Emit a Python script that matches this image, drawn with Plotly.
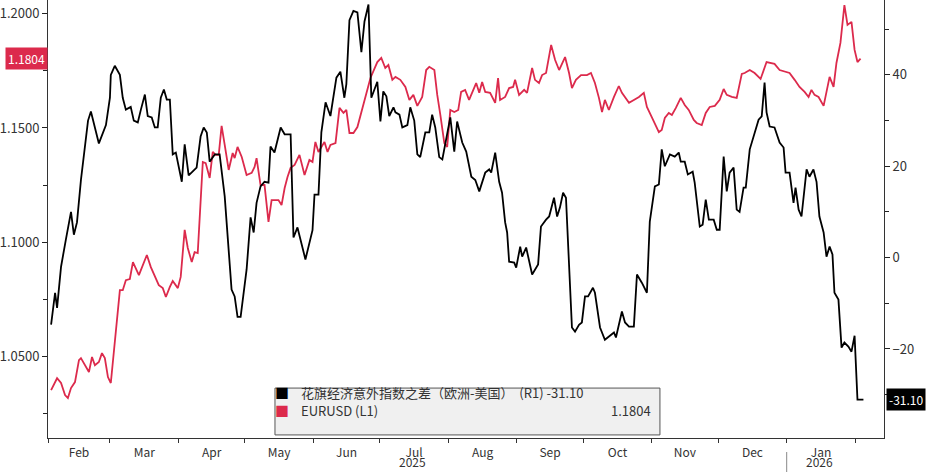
import pandas as pd
import plotly.graph_objects as go

START = pd.Timestamp("2025-02-01")

# days since 2025-02-01 and values
diff_days = [
    1.4, 3.2, 4.1, 5.9, 8.1, 10.4, 11.7, 13.1, 14.9, 18.1,
    19.4, 23, 26.2, 28, 28.4, 30.2, 32.5, 33.8, 35.2, 37.4,
    38.8, 40.6, 42, 43.8, 45.1, 46.9, 48.3, 49.6, 51, 52.4,
    53.7, 55.1, 56.4, 57.8, 60.5, 61.8, 63.6, 67.2, 69, 70.4,
    71.8, 73.1, 75.4, 77.6, 79.9, 81.2, 83, 84.4, 85.7, 87.1,
    89.8, 91.6, 93, 94.3, 96.1, 97.9, 99.7, 100.6, 102.4, 105.2,
    107, 109.7, 111, 112.8, 115.1, 116.4, 119.6, 120.5, 122.3, 123.6,
    125.5, 127.7, 130.4, 132.2, 134, 134.9, 136.3, 138.1, 139.9, 141.7,
    143.1, 144.9, 146.2, 148.9, 150.3, 151.6, 153, 154.3, 156.2, 157.1,
    158.9, 160.2, 162.5, 163.8, 165.6, 167, 168.3, 170.6, 172.4, 173.7,
    175.1, 176.9, 178.3, 180.1, 181.9, 183.7, 185, 187.3, 189.1, 191.4,
    193.2, 195, 197.7, 199.5, 200.4, 202.2, 204, 205.3, 206.7, 207.6,
    208.5, 210.8, 211.7, 213.5, 214.4, 216.2, 218.9, 221.6, 222.9, 225.2,
    226.6, 228.8, 230.2, 231.5, 232.9, 234.2, 236.9, 238.3, 240.1, 241.4,
    242.8, 244.2, 246.4, 247.3, 249.6, 251.8, 255.9, 256.8, 259.5, 260.9,
    262.7, 264.9, 266.3, 268.5, 270.8, 272.1, 274.4, 276.2, 277.5, 278.9,
    281.2, 283.4, 285.2, 286.1, 287.9, 289.3, 291.5, 292.4, 294.7, 296,
    297.4, 298.8, 301, 302.4, 303.7, 305.5, 306.9, 308.2, 310, 311.4,
    312.7, 314.5, 315.5, 317.3, 319.5, 321.3, 322.7, 324, 324.9, 326.3,
    328.5, 330.8, 332.6, 333.5, 335.3, 337.1, 338, 339.4, 340.7, 343,
    344.3, 346.1, 347.5, 348.8, 350.7, 352, 353.4, 354.7, 355.6, 357.4,
    358.8, 360.1, 361.9, 363.3, 364.7, 366, 368.7,
]
diff_vals = [
    -14.7, -7.7, -11, -2, 4, 10, 5, 7.7, 17, 30,
    32, 25, 29, 35, 40, 42, 40, 35, 32.4, 33,
    30, 29.6, 32.4, 35.7, 31, 30.7, 28.5, 28.5, 35, 36.8,
    34.6, 34.6, 22.6, 23, 16.6, 24.8, 18, 19.7, 26.5, 28.5,
    27.4, 21, 22.6, 22.6, 13.4, 5.5, -7, -8.5, -13, -13,
    -2.6, 8.8, 5.5, 12, 15.6, 16.6, 16.4, 24.3, 23, 28.5,
    27, 27, 4.4, 6.6, 1.8, -0.4, 6, 13.8, 13.8, 27.4,
    34, 31, 39.4, 40.7, 35, 38, 52, 54, 53.7, 45,
    51.7, 55.4, 35, 38.5, 29.8, 36.4, 35.3, 31, 32.9, 31.8,
    31.3, 28.5, 29, 32.9, 30, 22.6, 22, 27.4, 27.4, 31.3,
    28.5, 22, 21.5, 26.5, 30.7, 23.2, 29.8, 25.2, 23.2, 17.7,
    17, 14.5, 18.6, 19.3, 18.6, 23, 16.6, 14.2, 7.7, 5.5,
    -0.9, -1.1, -2.2, 2.4, 0.2, 2.2, -3.7, -1.5, 6.8, 8.3,
    9, 13.1, 9, 11, 14.2, 13.1, -15.3, -16.2, -14.7, -14.2,
    -8.5, -8.5, -6.6, -7.7, -15.3, -18, -16.4, -17.5, -11.8, -14.2,
    -15.1, -15.1, -3.7, -5.5, -7.7, 7.9, 15.6, 16, 23.7, 20,
    22.6, 22.1, 23, 21, 21, 18.2, 18.8, 16.4, 6.8, 7.2,
    12.7, 8.3, 8.3, 6.1, 6.1, 22.1, 14.5, 18.6, 19.7, 10.5,
    10, 15.3, 15.3, 23.7, 27.4, 30.2, 30.9, 38.3, 31.8, 28.7,
    28.5, 25.2, 24.1, 18.6, 18.6, 12, 15.3, 10.5, 9, 19.3,
    17.7, 19.3, 16.6, 9, 5.5, 0.2, 2.4, 0.7, -7.7, -9.2,
    -19.7, -18.6, -19.5, -20.6, -17.1, -31.1, -31.1,
]

fx_days = [
    1.4, 4.1, 5.9, 7.7, 9, 10.4, 12.2, 14, 14.9, 16.7,
    18.5, 19.9, 21.2, 23, 24.4, 25.7, 27.1, 28.4, 30.2, 32.5,
    33.8, 35.2, 37, 38.4, 41.1, 42.9, 44.7, 46.5, 48.3, 50.1,
    51.9, 53.3, 55.1, 56.4, 58.7, 60, 61.8, 63.2, 65, 66.3,
    67.7, 69, 70, 71.3, 73.1, 74.5, 75.8, 77.2, 78.5, 79.9,
    81.7, 83.5, 84.4, 85.7, 87.6, 89.8, 92.1, 93.4, 94.3, 96.1,
    97.9, 99.7, 101.1, 102.4, 104.2, 105.6, 107, 108.3, 109.7, 111.5,
    113.7, 116, 118.2, 119.6, 120.9, 122.3, 125, 126.4, 127.7, 130,
    131.8, 133.6, 134.9, 136.3, 138.1, 139.9, 143.1, 145.8, 148.9, 150.7,
    152.5, 153.9, 155.7, 157.1, 159.3, 161.6, 163.4, 165.2, 167, 169.2,
    171, 172.4, 174.7, 176, 177.4, 179.2, 180.5, 181.9, 183.7, 185.5,
    186.8, 188.6, 190.4, 192.3, 193.6, 195, 196.3, 197.7, 199.9, 202.2,
    203.5, 204.4, 206.7, 208.5, 210.3, 211.2, 213, 215.3, 216.6, 218.9,
    220.2, 222, 223.4, 225.2, 227.5, 229.3, 231.1, 233.8, 235.6, 236.9,
    238.7, 241, 243.7, 245.5, 247.3, 249.1, 250.5, 251.8, 253.6, 255.9,
    258.1, 259.5, 260.9, 262.7, 264.9, 267.2, 269.4, 270.8, 273, 274.8,
    276.2, 277.5, 278.9, 280.7, 282.1, 283.9, 286.1, 287.9, 289.7, 292,
    293.3, 295.6, 297.4, 299.2, 301.5, 303.7, 305.5, 306.9, 309.2, 311.4,
    313.7, 315, 317.3, 319.5, 322.2, 324.9, 326.3, 328.5, 330.8, 333.1,
    335.3, 337.6, 339.8, 342.1, 343.9, 345.2, 346.6, 348.4, 350.7, 352,
    353.4, 355.2, 356.5, 358.3, 360.1, 361.5, 363.3, 364.7, 366, 367.4,
]
fx_vals = [
    1.0351, 1.0403, 1.0382, 1.0329, 1.0316, 1.0360, 1.0386, 1.0482, 1.0491, 1.0460,
    1.0430, 1.0496, 1.0460, 1.0474, 1.0513, 1.0491, 1.0408, 1.0382, 1.0557, 1.0789,
    1.0789, 1.0833, 1.0838, 1.0912, 1.0855, 1.0899, 1.0943, 1.0890, 1.0847, 1.0811,
    1.0798, 1.0759, 1.0803, 1.0829, 1.0798, 1.0847, 1.1053, 1.0974, 1.0912, 1.0956,
    1.0952, 1.1154, 1.1351, 1.1346, 1.1281, 1.1395, 1.1382, 1.1382, 1.1509, 1.1426,
    1.1316, 1.1390, 1.1368, 1.1417, 1.1373, 1.1294, 1.1303, 1.1329, 1.1368, 1.1250,
    1.1250, 1.1088, 1.1184, 1.1184, 1.1184, 1.1162, 1.1237, 1.1285, 1.1325, 1.1338,
    1.1382, 1.1294, 1.1360, 1.1351, 1.1439, 1.1395, 1.1439, 1.1395, 1.1426, 1.1434,
    1.1588, 1.1566, 1.1579, 1.1478, 1.1478, 1.1504, 1.1623, 1.1719, 1.1789, 1.1807,
    1.1763, 1.1776, 1.1711, 1.1724, 1.1711, 1.1680, 1.1623, 1.1645, 1.1597, 1.1636,
    1.1754, 1.1768, 1.1754, 1.1645, 1.1557, 1.1434, 1.1417, 1.1579, 1.1570, 1.1579,
    1.1658, 1.1667, 1.1623, 1.1667, 1.1697, 1.1654, 1.1702, 1.1658, 1.1654, 1.1610,
    1.1719, 1.1623, 1.1636, 1.1675, 1.1680, 1.1711, 1.1645, 1.1667, 1.1654, 1.1763,
    1.1711, 1.1697, 1.1732, 1.1741, 1.1864, 1.1798, 1.1754, 1.1811, 1.1741, 1.1675,
    1.1711, 1.1732, 1.1732, 1.1741, 1.1697, 1.1632, 1.1570, 1.1623, 1.1579, 1.1636,
    1.1684, 1.1654, 1.1636, 1.1610, 1.1623, 1.1636, 1.1654, 1.1592, 1.1548, 1.1513,
    1.1482, 1.1491, 1.1544, 1.1566, 1.1557, 1.1588, 1.1632, 1.1601, 1.1579, 1.1535,
    1.1522, 1.1513, 1.1566, 1.1592, 1.1597, 1.1623, 1.1671, 1.1645, 1.1636, 1.1632,
    1.1737, 1.1741, 1.1754, 1.1741, 1.1715, 1.1789, 1.1785, 1.1781, 1.1754, 1.1746,
    1.1741, 1.1711, 1.1680, 1.1658, 1.1636, 1.1667, 1.1645, 1.1636, 1.1597, 1.1658,
    1.1724, 1.1680, 1.1785, 1.1873, 1.2039, 1.1952, 1.1965, 1.1842, 1.1789, 1.1804,
]

DIFF_NAME = "花旗经济意外指数之差（欧洲-美国）"
FX_NAME = "EURUSD"
DIFF_LAST = "-31.10"
FX_LAST = "1.1804"

BLACK = "#000000"
RED = "#dc2a4c"
TXT = "#333333"
FONT = "Noto Sans CJK SC, Noto Sans, sans-serif"

diff_x = START + pd.to_timedelta(diff_days, unit="D")
fx_x = START + pd.to_timedelta(fx_days, unit="D")

fig = go.Figure()
fig.add_trace(go.Scatter(x=fx_x, y=fx_vals, mode="lines", yaxis="y",
                         line=dict(color=RED, width=1.8), showlegend=False))
fig.add_trace(go.Scatter(x=diff_x, y=diff_vals, mode="lines", yaxis="y2",
                         line=dict(color=BLACK, width=1.8), showlegend=False))

# legend box
fig.add_shape(type="rect", xref="paper", yref="paper",
              x0=0.2715, x1=0.732, y0=0.007, y1=0.114,
              fillcolor="#f0f0f0", line=dict(color="#555", width=1))
rows = [(DIFF_NAME + "  (R1) " + DIFF_LAST, BLACK, 0.078),
        (FX_NAME + " (L1)", RED, 0.037)]
for label, col, yy in rows:
    fig.add_annotation(xref="paper", yref="paper", x=0.2805, y=yy, text="■",
                       showarrow=False, font=dict(size=14, color=col), xanchor="center")
    fig.add_annotation(xref="paper", yref="paper", x=0.3005, y=yy, text=label,
                       showarrow=False, font=dict(size=13, color=TXT, family=FONT),
                       xanchor="left")
fig.add_annotation(xref="paper", yref="paper", x=0.724, y=0.037, text=FX_LAST,
                   showarrow=False, font=dict(size=13, color=TXT, family=FONT), xanchor="right")

# last value tags
fig.add_annotation(xref="paper", yref="y", x=0, y=fx_vals[-1], text=FX_LAST,
                   xanchor="right", showarrow=False, bgcolor=RED,
                   font=dict(size=12, color="white", family=FONT), borderpad=2)
fig.add_annotation(xref="paper", yref="y2", x=1.002, y=diff_vals[-1], text=DIFF_LAST,
                   xanchor="left", showarrow=False, bgcolor=BLACK,
                   font=dict(size=12, color="white", family=FONT), borderpad=2)

# year labels
for yr, when in [("2025", "2025-07-16"), ("2026", "2026-01-16")]:
    fig.add_annotation(xref="x", yref="paper", x=when, y=-0.0765, text=yr,
                       showarrow=False, yanchor="bottom",
                       font=dict(size=12, color=TXT, family=FONT))
fig.add_shape(type="line", xref="x", yref="paper", x0="2026-01-01", x1="2026-01-01",
              y0=-0.032, y1=-0.078, line=dict(color="#888", width=1))

fig.update_layout(
    width=933, height=472,
    margin=dict(l=48, r=49, t=0, b=34),
    plot_bgcolor="white", paper_bgcolor="white",
    font=dict(family=FONT, color=TXT, size=13),
    showlegend=False,
    xaxis=dict(
        range=["2025-02-01", "2026-02-14"], automargin=False,
        tickmode="linear", tick0="2025-02-01", dtick="M1",
        tickformat="%b", ticklabelmode="period",
        ticks="outside", ticklen=4, tickcolor="#333",
        showgrid=False, showline=True, linecolor="#333", mirror=False,
        tickfont=dict(size=12, color=TXT),
    ),
    yaxis=dict(
        range=[1.0141, 1.2061], tickvals=[1.05, 1.10, 1.15, 1.20], automargin=False,
        tickformat=".4f", ticks="outside", ticklen=5, tickcolor="#222",
        minor=dict(tickvals=[1.025, 1.075, 1.125, 1.175], ticks="outside",
                   ticklen=4, tickcolor="#222"),
        showgrid=False, showline=True, linecolor="#333", zeroline=False,
        tickfont=dict(size=13, color=TXT),
    ),
    yaxis2=dict(
        overlaying="y", side="right", automargin=False,
        range=[-39.5, 56.4], tickvals=[-20, 0, 20, 40],
        ticks="outside", ticklen=5, tickcolor="#222",
        minor=dict(tickvals=[-30, -10, 10, 30, 50], ticks="outside",
                   ticklen=4, tickcolor="#222"),
        showgrid=False, showline=True, linecolor="#333", zeroline=False,
        tickfont=dict(size=13, color=TXT),
    ),
)

print(len(diff_days), len(diff_vals), len(fx_days), len(fx_vals))
fig.write_html("out.html", config={"displayModeBar": False},
               post_script="document.body.style.margin='0';")
